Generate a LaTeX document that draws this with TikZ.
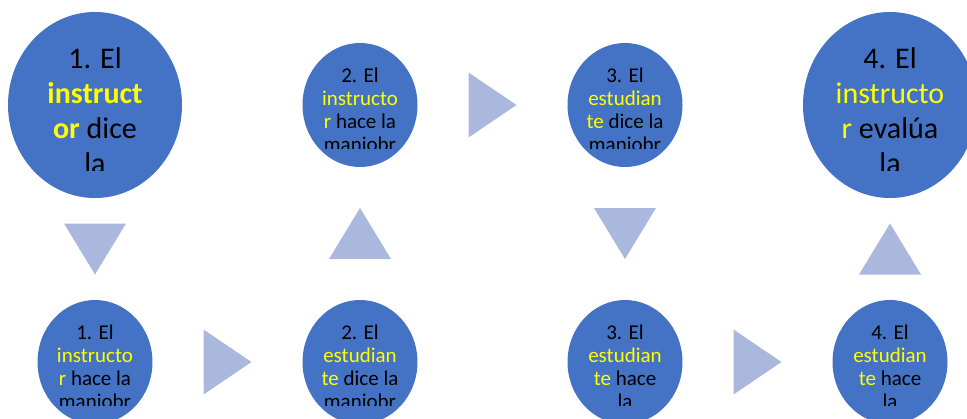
\documentclass[tikz,border=0pt]{standalone}
\usepackage{fontspec}
\setmainfont{Carlito}
\usetikzlibrary{positioning, shapes.geometric, calc}
\definecolor{stepblue}{RGB}{68,114,196}
\definecolor{arrowblue}{RGB}{170,184,222}
\definecolor{hiyellow}{RGB}{255,255,0}

\begin{document}
\begin{tikzpicture}[x=1pt,y=-1pt,
    bigstep/.style={ellipse,fill=stepblue,minimum width=174pt,minimum height=186pt,inner sep=0pt,outer sep=0pt},
    smallstep/.style={ellipse,fill=stepblue,minimum width=115pt,minimum height=124pt,inner sep=0pt,outer sep=0pt},
    bigtext/.style={anchor=base,inner sep=0pt,font=\fontsize{30}{35}\selectfont},
    smalltext/.style={anchor=base,inner sep=0pt,font=\fontsize{21}{23}\selectfont},
    tri/.style={fill=arrowblue}]
    \useasboundingbox (0,0) rectangle (967,418);
    % Steps, top row and bottom row
    \node[bigstep]   (c1) at (95,105) {};
    \node[smallstep] (c2) at (360,105) {};
    \node[smallstep] (c3) at (625,105) {};
    \node[bigstep]   (c4) at (890,105) {};
    \node[smallstep] (b1) at (95,362) {};
    \node[smallstep] (b2) at (360,362) {};
    \node[smallstep] (b3) at (625,362) {};
    \node[smallstep] (b4) at (890,362) {};
    % Texts, cut off at the inner box of each step
    \begin{scope}
        \clip (c1.north west) rectangle (c1.south east);
        \node[bigtext] (t1) at ($(c1.center)+(0,-37)$) {\begin{tabular}[t]{@{}c@{}}1. El\\
            \textbf{\textcolor{hiyellow}{instruct}}\\ \textbf{\textcolor{hiyellow}{or}} dice\\ la\end{tabular}};
    \end{scope}
    \begin{scope}
        \clip (c2.north west) rectangle (c2.south east);
        \node[smalltext] (t2) at ($(c2.center)+(0,-23)$) {\begin{tabular}[t]{@{}c@{}}2. El\\
            \textcolor{hiyellow}{instructo}\\ \textcolor{hiyellow}{r} hace la\\ maniobr\end{tabular}};
    \end{scope}
    \begin{scope}
        \clip (c3.north west) rectangle (c3.south east);
        \node[smalltext] (t3) at ($(c3.center)+(0,-23)$) {\begin{tabular}[t]{@{}c@{}}3. El\\
            \textcolor{hiyellow}{estudian}\\ \textcolor{hiyellow}{te} dice la\\ maniobr\end{tabular}};
    \end{scope}
    \begin{scope}
        \clip (c4.north west) rectangle (c4.south east);
        \node[bigtext] (t4) at ($(c4.center)+(0,-37)$) {\begin{tabular}[t]{@{}c@{}}4. El\\
            \textcolor{hiyellow}{instructo}\\ \textcolor{hiyellow}{r} evalúa\\ la\end{tabular}};
    \end{scope}
    \begin{scope}
        \clip (b1.north west) rectangle (b1.south east);
        \node[smalltext] (u1) at ($(b1.center)+(0,-23)$) {\begin{tabular}[t]{@{}c@{}}1. El\\
            \textcolor{hiyellow}{instructo}\\ \textcolor{hiyellow}{r} hace la\\ maniobr\end{tabular}};
    \end{scope}
    \begin{scope}
        \clip (b2.north west) rectangle (b2.south east);
        \node[smalltext] (u2) at ($(b2.center)+(0,-23)$) {\begin{tabular}[t]{@{}c@{}}2. El\\
            \textcolor{hiyellow}{estudian}\\ \textcolor{hiyellow}{te} dice la\\ maniobr\end{tabular}};
    \end{scope}
    \begin{scope}
        \clip (b3.north west) rectangle (b3.south east);
        \node[smalltext] (u3) at ($(b3.center)+(0,-23)$) {\begin{tabular}[t]{@{}c@{}}3. El\\
            \textcolor{hiyellow}{estudian}\\ \textcolor{hiyellow}{te} hace\\ la\end{tabular}};
    \end{scope}
    \begin{scope}
        \clip (b4.north west) rectangle (b4.south east);
        \node[smalltext] (u4) at ($(b4.center)+(0,-23)$) {\begin{tabular}[t]{@{}c@{}}4. El\\
            \textcolor{hiyellow}{estudian}\\ \textcolor{hiyellow}{te} hace\\ la\end{tabular}};
    \end{scope}
    % Arrow triangles between the steps
    \foreach \a/\b in {b1/b2, c2/c3, b3/b4}
        \fill[tri] ($(\a.east)!0.5!(\b.west)$) ++(-24,-32.5) -- ++(48,32.5) -- ++(-48,32.5) -- cycle;
    \foreach \a/\b in {c1/b1, c3/b3}
        \fill[tri] ($(\a.south)!0.5!(\b.north)$) ++(-31,-25.5) -- ++(62,0) -- ++(-31,51) -- cycle;
    \foreach \a/\b in {b2/c2, b4/c4}
        \fill[tri] ($(\a.north)!0.5!(\b.south)$) ++(-31,25.5) -- ++(62,0) -- ++(-31,-51) -- cycle;
\end{tikzpicture}
\end{document}
